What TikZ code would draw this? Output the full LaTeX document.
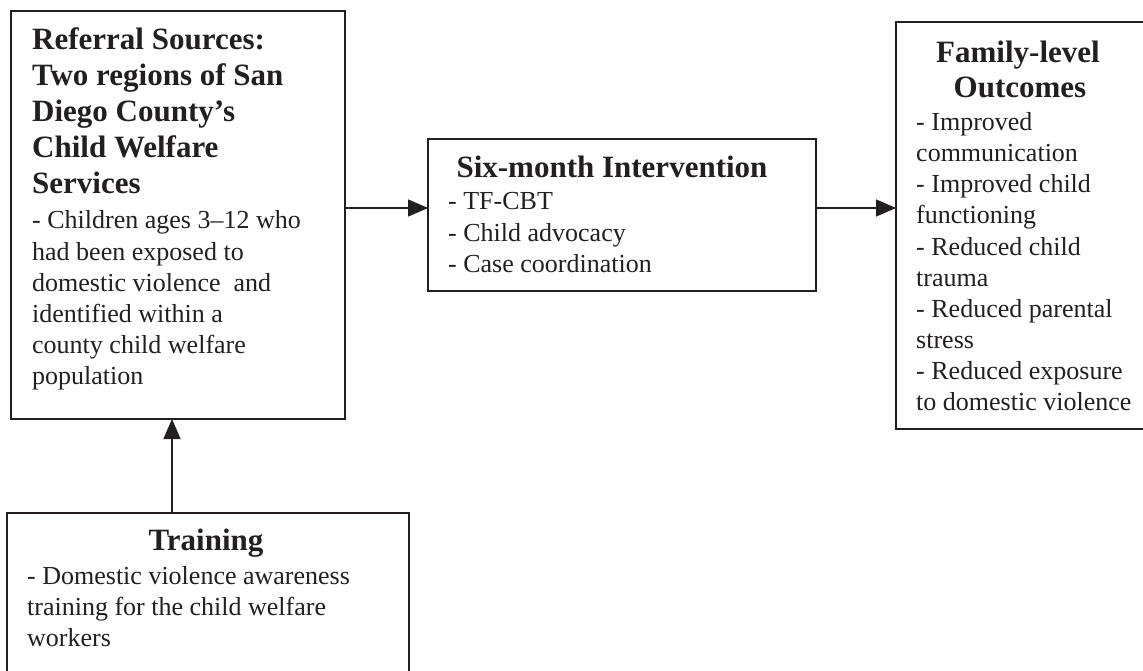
\documentclass[tikz,border=0pt]{standalone}
\usepackage{fontspec}
\setmainfont{Liberation Serif}
\usetikzlibrary{arrows.meta}
\definecolor{ink}{HTML}{231F20}
\begin{document}
\begin{tikzpicture}[x=1pt,y=-1pt,
  panel/.style={draw=ink, line width=1.3pt, rectangle, anchor=north west,
    inner sep=0pt, outer sep=0pt},
  head/.style={font=\fontsize{31}{36}\selectfont\bfseries, text=ink, inner sep=0pt},
  item/.style={font=\fontsize{26}{31}\selectfont, text=ink, inner sep=0pt, anchor=base west},
  link/.style={draw=ink, line width=1.3pt, -{Triangle[length=20pt,width=17pt]}}]
\useasboundingbox (0,0) rectangle (1143,671);
\clip (0,0) rectangle (1143,671);

% frames
\node[panel, minimum width=334pt, minimum height=408pt] (ref) at (11,11) {};
\node[panel, minimum width=388pt, minimum height=152pt] (interv) at (428,139) {};
\node[panel, minimum width=260pt, minimum height=407pt] (outc) at (896,22) {};
\node[panel, minimum width=402pt, minimum height=180pt] (train) at (7,513) {};

% referral sources
\foreach \t [count=\i] in {Referral Sources:, Two regions of San, Diego County’s,
    Child Welfare, Services}
  \node[head, anchor=base west] (ref-h\i) at (32,{50+36*(\i-1)}) {\t};
\foreach \t [count=\i] in {- Children ages 3–12 who, had been exposed to,
    domestic violence~ and, identified within a, county child welfare, population}
  \node[item] (ref-b\i) at (32,{229+31*(\i-1)}) {\t};

% intervention
\node[head, anchor=base] (interv-h) at (612,178) {Six-month Intervention};
\foreach \t [count=\i] in {- TF-CBT, - Child advocacy, - Case coordination}
  \node[item] (interv-b\i) at (448,{210+31*(\i-1)}) {\t};

% outcomes
\node[head, anchor=base] (outc-h1) at (1018,63) {Family-level};
\node[head, anchor=base] (outc-h2) at (1020,98) {Outcomes};
\foreach \t [count=\i] in {- Improved, communication, - Improved child, functioning,
    - Reduced child, trauma, - Reduced parental, stress, - Reduced exposure,
    to domestic violence}
  \node[item] (outc-b\i) at (916,{131+31*(\i-1)}) {\t};

% training
\node[head, anchor=base] (train-h) at (206,550) {Training};
\foreach \t [count=\i] in {- Domestic violence awareness, training for the child welfare,
    workers}
  \node[item] (train-b\i) at (27,{584+31*(\i-1)}) {\t};

% connectors
\draw[link] ([yshift=7pt]ref.east) -- ([yshift=7pt]interv.west);
\draw[link] ([yshift=7pt]interv.east) -- ([yshift=7pt]interv.east -| outc.west);
\coordinate (up) at ([xshift=-6pt]ref.south);
\draw[link] (train.north -| up) -- (up);
\end{tikzpicture}
\end{document}
